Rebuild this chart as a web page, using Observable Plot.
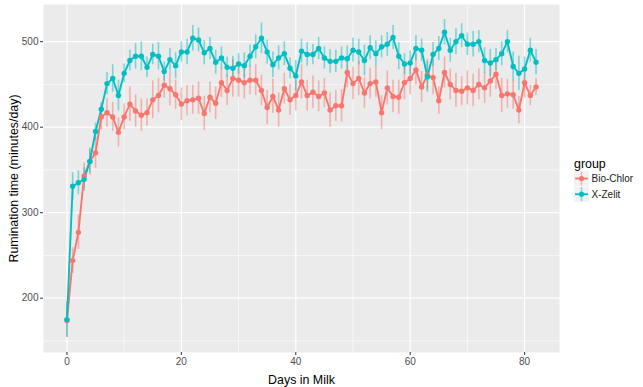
<!DOCTYPE html>
<html>
<head>
<meta charset="utf-8">
<script src="https://cdn.jsdelivr.net/npm/d3@7"></script>
<script src="https://cdn.jsdelivr.net/npm/@observablehq/plot@0.6"></script>
<style>
  body { margin: 0; background: #fff; }
  #chart { position: relative; width: 643px; height: 387px; }
  .gg g[aria-label="x-axis tick label"] text,
  .gg g[aria-label="y-axis tick label"] text { fill: #4D4D4D; }
  .gg g[aria-label="x-axis label"] text,
  .gg g[aria-label="y-axis label"] text { font-size: 12.4px; fill: #000; }
</style>
</head>
<body>
<div id="chart"></div>
<script>
const groups = ["Bio-Chlor", "X-Zelit"];
const colors = ["#F8766D", "#00BFC4"];
const days = d3.range(0, 83);

const bioChlor = [174,244,277,343,360,370,412,417,412,394,412,427,419,414,417,432,437,449,445,438,
  427,431,432,434,416,435,428,452,443,457,455,452,455,455,443,423,436,420,445,432,
  437,453,437,441,436,440,420,425,425,464,451,457,440,451,453,417,446,436,435,452,
  457,467,447,461,458,431,464,450,443,442,446,443,450,446,454,462,437,439,438,420,
  452,437,447];
const bioChlorErr = [20,15,20,15,16,18,15,17,17,17,15,20,19,19,16,22,20,15,20,17,
  19,18,17,19,20,18,19,17,18,22,20,19,17,18,18,20,20,20,18,18,
  18,20,18,19,18,17,20,18,19,18,19,20,18,18,18,20,20,19,20,20,
  19,18,18,18,20,16,18,18,20,17,20,19,18,18,19,18,20,17,17,16,
  18,12,10];
const xZelit = [175,331,335,339,360,395,421,451,457,437,463,478,483,483,470,485,483,465,479,472,
  488,488,504,502,487,492,476,481,470,469,474,472,483,494,504,488,473,481,486,469,
  460,489,485,485,492,481,477,477,481,480,490,488,478,493,486,494,497,505,483,474,
  475,492,490,459,485,492,511,490,500,507,497,497,500,478,475,479,486,500,471,463,
  468,490,476];
const xZelitErr = [21,16,14,14,14,10,8,13,16,18,11,12,15,17,12,12,16,11,13,15,
  12,15,15,14,14,13,14,13,12,14,12,15,13,14,18,14,15,14,14,12,
  18,14,14,12,13,13,14,13,13,15,14,15,18,14,15,13,14,14,16,12,
  14,15,13,18,14,14,15,14,15,14,13,15,13,15,16,13,14,13,17,20,
  14,14,15];

const xMajor = [0, 20, 40, 60, 80];
const xMinor = [10, 30, 50, 70];
const yMajor = [200, 300, 400, 500];
const yMinor = [150, 250, 350, 450];

const series = [bioChlor, xZelit];
const errs = [bioChlorErr, xZelitErr];
const data = groups.flatMap((g, gi) => days.map((d, i) => ({
  group: g, day: d, value: series[gi][i],
  lo: series[gi][i] - errs[gi][i], hi: series[gi][i] + errs[gi][i]
})));

const svg = Plot.plot({
  className: "gg",
  width: 643, height: 387,
  marginLeft: 43, marginRight: 84, marginTop: 4, marginBottom: 35,
  style: { fontFamily: "'Liberation Sans', Arial, sans-serif", fontSize: "10px", background: "#fff" },
  x: { domain: [-4.1, 86.1] },
  y: { domain: [136.5, 543.5] },
  color: { domain: groups, range: colors },
  marks: [
    Plot.frame({ fill: "#EBEBEB", stroke: null }),
    Plot.gridX(xMinor, { stroke: "#fff", strokeOpacity: 1, strokeWidth: 0.6 }),
    Plot.gridY(yMinor, { stroke: "#fff", strokeOpacity: 1, strokeWidth: 0.6 }),
    Plot.gridX(xMajor, { stroke: "#fff", strokeOpacity: 1, strokeWidth: 1.2 }),
    Plot.gridY(yMajor, { stroke: "#fff", strokeOpacity: 1, strokeWidth: 1.2 }),
    Plot.axisX({ ticks: xMajor, tickSize: 3, tickPadding: 2, stroke: "#333", tickFormat: d3.format("d"),
      label: "Days in Milk", labelAnchor: "center", labelArrow: "none", labelOffset: 31 }),
    Plot.axisY({ ticks: yMajor, tickSize: 3, tickPadding: 2, stroke: "#333", tickFormat: d3.format("d"),
      label: "Rumination time (minutes/day)", labelAnchor: "center", labelArrow: "none", labelOffset: 34 }),
    Plot.ruleX(data, { x: "day", y1: "lo", y2: "hi", stroke: "group", strokeOpacity: 0.5, strokeWidth: 1.6 }),
    Plot.line(data, { x: "day", y: "value", stroke: "group", strokeWidth: 1.9 }),
    Plot.dot(data, { x: "day", y: "value", fill: "group", r: 2.7 })
  ]
});
document.getElementById("chart").appendChild(svg);

// ggplot-style legend on the right
const lg = d3.select(svg).append("g").attr("transform", "translate(574,0)")
  .attr("font-family", "'Liberation Sans', Arial, sans-serif")
  .attr("text-anchor", "start");
lg.append("text").attr("x", 0).attr("y", 167.5).attr("font-size", 12.4).attr("fill", "#000").text("group");
groups.forEach((g, i) => {
  const cy = 178.5 + i * 15.7;
  const k = lg.append("g");
  k.append("rect").attr("x", 0).attr("y", cy - 7.5).attr("width", 15).attr("height", 15).attr("fill", "#F2F2F2");
  k.append("line").attr("x1", 7.5).attr("x2", 7.5).attr("y1", cy - 7).attr("y2", cy + 7)
    .attr("stroke", colors[i]).attr("stroke-opacity", 0.5).attr("stroke-width", 1.6);
  k.append("line").attr("x1", 1).attr("x2", 14).attr("y1", cy).attr("y2", cy)
    .attr("stroke", colors[i]).attr("stroke-width", 1.8);
  k.append("circle").attr("cx", 7.5).attr("cy", cy).attr("r", 2.6).attr("fill", colors[i]);
  k.append("text").attr("x", 17.5).attr("y", cy).attr("dy", "0.35em").attr("font-size", 10)
    .attr("fill", "#1A1A1A").text(g);
});
</script>
</body>
</html>
